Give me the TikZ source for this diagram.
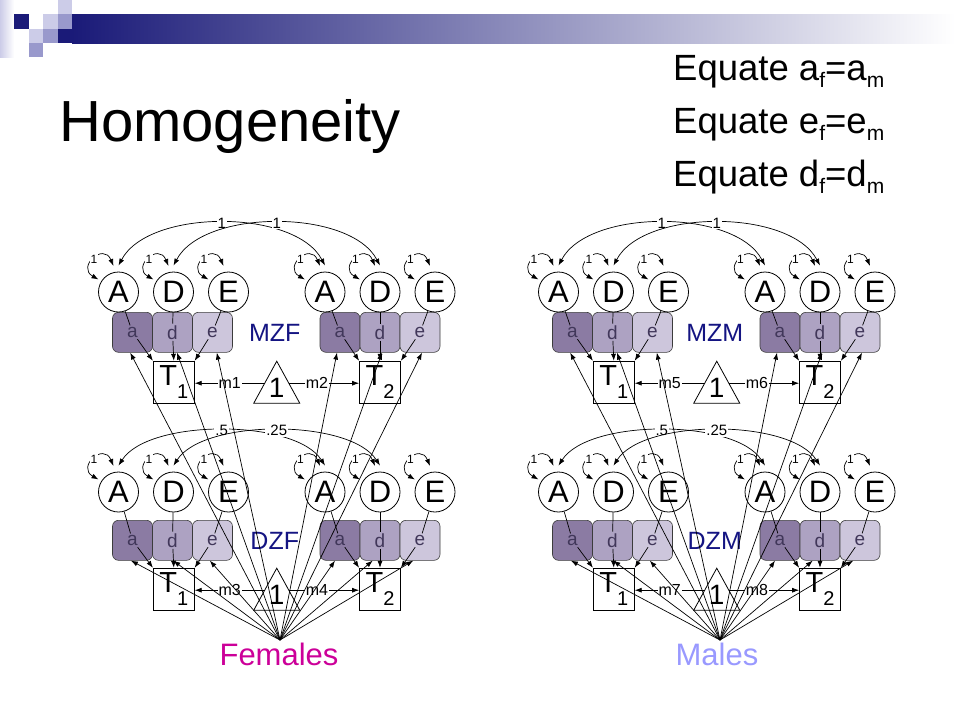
\documentclass[tikz,border=0pt]{standalone}
\usepackage{fontspec}
\setmainfont{Liberation Sans}
\usetikzlibrary{arrows.meta,calc}

\definecolor{navybar}{RGB}{26,26,120}
\definecolor{lav}{RGB}{204,204,232}
\definecolor{lavmid}{RGB}{153,153,204}
\definecolor{barmid}{RGB}{150,150,180}
\definecolor{boxa}{RGB}{139,123,163}
\definecolor{boxd}{RGB}{173,162,194}
\definecolor{boxe}{RGB}{205,198,220}
\definecolor{boxtxt}{RGB}{65,55,90}
\definecolor{grplab}{RGB}{20,20,130}
\definecolor{fem}{RGB}{204,0,153}
\definecolor{mal}{RGB}{153,153,255}
\definecolor{edgegrey}{RGB}{60,60,60}

\newcommand\fsz[1]{\fontsize{#1}{#1}\selectfont}
\newcommand\eqsub[1]{\raisebox{-7pt}{\fsz{21}#1}}

\begin{document}
\begin{tikzpicture}[x=1pt,y=-1pt,
  >={Latex[length=7pt,width=5pt]},
  latent/.style={circle,draw=black,line width=0.8pt,minimum size=40pt,inner sep=0pt,font=\fsz{31}},
  pathbox/.style={draw=edgegrey,line width=0.6pt,rounded corners=6pt,minimum width=40pt,minimum height=40pt,inner sep=0pt},
  pathlab/.style={inner sep=1.5pt,text=boxtxt,font=\fsz{19}},
  obsbox/.style={draw=black,line width=0.8pt,minimum width=41pt,minimum height=42pt,inner sep=0pt},
  conn/.style={line width=0.7pt},
  arr/.style={conn,->},
  darr/.style={conn,<->},
  varlab/.style={fill=white,inner sep=0.5pt,font=\fsz{12}},
  covlab/.style={fill=white,inner sep=1pt,font=\fsz{15}},
  mlab/.style={fill=white,inner sep=1pt,font=\fsz{16}},
  grouplab/.style={text=grplab,font=\fsz{25}},
]
\useasboundingbox (0,0) rectangle (960,720);
\fill[white] (0,0) rectangle (960,720);

% header decoration
\shade[left color=lav, right color=white] (0,0) rectangle (14,57);
\fill[navybar] (14,14) rectangle (29,29);
\fill[lav] (43,14) rectangle (58,29);
\fill[lav] (58,0) rectangle (72,14);
\fill[lavmid] (58,14) rectangle (72,29);
\fill[lav] (29,29) rectangle (43,43);
\fill[lavmid] (43,29) rectangle (58,43);
\fill[lavmid] (29,43) rectangle (43,57);
\fill[navybar] (58,29) rectangle (72,43);
\shade[left color=navybar, middle color=barmid, right color=white] (72,14) rectangle (955,43);

% titles
\node[anchor=base west, inner sep=0pt, font=\fsz{58}] (title) at (59,141.7) {Homogeneity};
\node[anchor=base west, inner sep=0pt, font=\fsz{36.5}] (eq1) at (673,80) {Equate a\eqsub{f}=a\eqsub{m}};
\node[anchor=base west, inner sep=0pt, font=\fsz{36.5}] (eq2) at (673,133) {Equate e\eqsub{f}=e\eqsub{m}};
\node[anchor=base west, inner sep=0pt, font=\fsz{36.5}] (eq3) at (673,186.5) {Equate d\eqsub{f}=d\eqsub{m}};

% twin panels
\foreach \xo/\cy/\by/\ty/\pfx/\grp/\xa/\xd/\ml/\mr/\hh in {
  0/292/332.3/382.2/fm/MZF/1/1/m1/m2/63,
  0/492/540.3/589.2/fd/DZF/.5/.25/m3/m4/53,
  440/292/332.3/382.2/mm/MZM/1/1/m5/m6/63,
  440/492/540.3/589.2/md/DZM/.5/.25/m7/m8/53}{
  \pgfmathsetmacro\xl{173.5+\xo}
  \pgfmathsetmacro\xr{380+\xo}
  \pgfmathsetmacro\xm{276.75+\xo}
  % path coefficient boxes
  \node[pathbox, fill=boxa] (\pfx ba1) at (\xl-41,\by) {};
  \node[pathbox, fill=boxd] (\pfx bd1) at (\xl-1,\by) {};
  \node[pathbox, fill=boxe] (\pfx be1) at (\xl+39,\by) {};
  \node[pathbox, fill=boxa] (\pfx ba2) at (\xr-40,\by) {};
  \node[pathbox, fill=boxd] (\pfx bd2) at (\xr,\by) {};
  \node[pathbox, fill=boxe] (\pfx be2) at (\xr+40,\by) {};
  \node[pathlab] (\pfx la1) at (\pfx ba1) {a};
  \node[pathlab] (\pfx ld1) at (\pfx bd1) {d};
  \node[pathlab] (\pfx le1) at (\pfx be1) {e};
  \node[pathlab] (\pfx la2) at (\pfx ba2) {a};
  \node[pathlab] (\pfx ld2) at (\pfx bd2) {d};
  \node[pathlab] (\pfx le2) at (\pfx be2) {e};
  \node[grouplab] (\pfx grp) at (\xm-2,\by+1) {\grp};
  % latent variables
  \node[latent] (\pfx A1) at (\xl-55,\cy) {A};
  \node[latent] (\pfx D1) at (\xl,\cy) {D};
  \node[latent] (\pfx E1) at (\xl+55,\cy) {E};
  \node[latent] (\pfx A2) at (\xr-55,\cy) {A};
  \node[latent] (\pfx D2) at (\xr,\cy) {D};
  \node[latent] (\pfx E2) at (\xr+55,\cy) {E};
  % observed
  \node[obsbox] (\pfx T1) at (\xl+0.3,\ty) {\fsz{29}T\raisebox{-13pt}{\fsz{20}1}};
  \node[obsbox] (\pfx T2) at (\xr,\ty) {\fsz{29}T\raisebox{-13pt}{\fsz{20}2}};
  % means triangle
  \draw[line width=0.8pt] (\xm,\ty-21) -- (\xm+23,\ty+21) -- (\xm-23,\ty+21) -- cycle;
  \node[font=\fsz{28}, inner sep=0pt] (\pfx one) at (\xm,\ty+6) {1};
  \coordinate (\pfx mL) at (\xm-12,\ty+1);
  \coordinate (\pfx mR) at (\xm+12,\ty+1);
  \draw[arr] (\pfx mL) -- node[mlab]{\ml} (\pfx T1.east |- \pfx mL);
  \draw[arr] (\pfx mR) -- node[mlab, pos=0.4]{\mr} (\pfx T2.west |- \pfx mR);
  % paths
  \draw[conn] (\pfx A1) -- (\pfx la1);  \draw[arr] (\pfx la1) -- (\pfx T1.north west);
  \draw[conn] (\pfx D1) -- (\pfx ld1);  \draw[arr] (\pfx ld1) -- (\pfx T1.north);
  \draw[conn] (\pfx E1) -- (\pfx le1);  \draw[arr] (\pfx le1) -- (\pfx T1.north east);
  \draw[conn] (\pfx A2) -- (\pfx la2);  \draw[arr] (\pfx la2) -- (\pfx T2.north west);
  \draw[conn] (\pfx D2) -- (\pfx ld2);  \draw[arr] (\pfx ld2) -- (\pfx T2.north);
  \draw[conn] (\pfx E2) -- (\pfx le2);  \draw[arr] (\pfx le2) -- (\pfx T2.north east);
  % variances
  \foreach \c in {A1,D1,E1,A2,D2,E2}{
    \draw[darr] ($(\pfx\c)+(-20,-12.5)$) .. controls ($(\pfx\c)+(-42,-25)$) and ($(\pfx\c)+(-15,-50)$) .. ($(\pfx\c)+(-5,-26)$) node[varlab,pos=0.5]{1};
  }
  % covariances between twins
  \draw[darr] ($(\pfx A1.north)+(0,-6)$) .. controls ($(\pfx A1.north)+(30,-\hh)$) and ($(\pfx A2.north)+(-30,-\hh)$) .. ($(\pfx A2.north)+(0,-6)$) node[covlab,pos=0.5]{\xa};
  \draw[darr] ($(\pfx D1.north)+(0,-6)$) .. controls ($(\pfx D1.north)+(30,-\hh)$) and ($(\pfx D2.north)+(-30,-\hh)$) .. ($(\pfx D2.north)+(0,-6)$) node[covlab,pos=0.5]{\xd};
}

% group sources
\coordinate (fpt) at (280,640);
\coordinate (mpt) at (720,640);
\node[text=fem, font=\fsz{31}, anchor=base, inner sep=0pt] (femlab) at (279,665.5) {Females};
\node[text=mal, font=\fsz{31}, anchor=base, inner sep=0pt] (mallab) at (717,665.5) {Males};

\foreach \pt/\g in {fpt/f, mpt/m}{
  \foreach \b/\dx in {ba1/-2.3, bd1/4.5, be1/4.3, ba2/-3, bd2/2, be2/2}
    \draw[arr] (\pt) -- ($(\g m\b.south)+(\dx,0)$);
  \foreach \b/\dx in {ba1/-1.6, bd1/0.8, be1/-2.7, ba2/-5, bd2/-7.3, be2/-6.7}
    \draw[arr] (\pt) -- ($(\g d\b.south)+(\dx,0)$);
}
\end{tikzpicture}
\end{document}
